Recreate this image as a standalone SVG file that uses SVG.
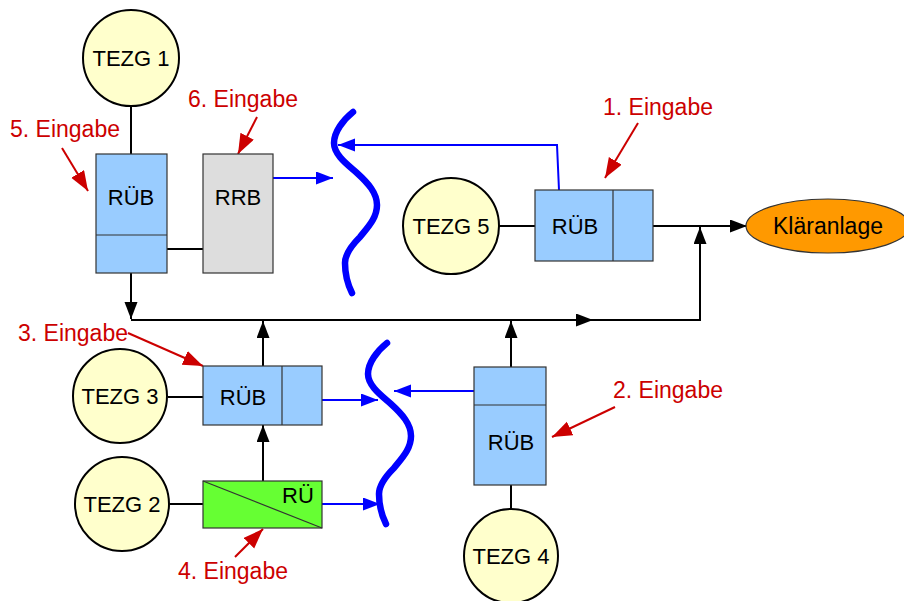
<svg xmlns="http://www.w3.org/2000/svg" width="904" height="601" viewBox="0 0 904 601">
<defs>
<style>
text{font-family:"Liberation Sans",Arial,sans-serif;font-size:22px;fill:#000;text-anchor:middle;dominant-baseline:central}
.lbl{fill:#cc0000;text-anchor:start;dominant-baseline:alphabetic;font-size:23px}
.big{font-size:23px}
.tezg{fill:#ffffcc;stroke:#000;stroke-width:2}
.rub{fill:#99ccff;stroke:#333;stroke-width:1.2}
.rrb{fill:#dddddd;stroke:#333;stroke-width:1.2}
.ru{fill:#66ff33;stroke:#333;stroke-width:1.2}
.ka{fill:#ff9900;stroke:#333;stroke-width:1.2}
.blk{fill:none;stroke:#000;stroke-width:2}
.blu{fill:none;stroke:#0000ff;stroke-width:2}
.red{fill:none;stroke:#cc0000;stroke-width:2}
.wave{fill:none;stroke:#0000ff;stroke-width:6.5;stroke-linecap:round}
</style>
<marker id="ab" markerUnits="userSpaceOnUse" markerWidth="18" markerHeight="14" refX="17" refY="6.5" orient="auto"><path d="M0,0 L17,6.5 L0,13 Z" fill="#000"/></marker>
<marker id="au" markerUnits="userSpaceOnUse" markerWidth="18" markerHeight="14" refX="17" refY="6.5" orient="auto"><path d="M0,0 L17,6.5 L0,13 Z" fill="#0000ff"/></marker>
<marker id="ar" markerUnits="userSpaceOnUse" markerWidth="21" markerHeight="16" refX="20" refY="7.5" orient="auto"><path d="M0,0 L20,7.5 L0,15 Z" fill="#cc0000"/></marker>
</defs>
<rect width="904" height="601" fill="#fff"/>

<g id="connectors">
<line class="blk" x1="131" y1="107" x2="131" y2="154"/>
<line class="blk" x1="167" y1="249" x2="203" y2="249"/>
<line class="blk" x1="131" y1="273" x2="131" y2="319" marker-end="url(#ab)"/>
<polyline class="blk" points="131,320 593,320"  marker-end="url(#ab)"/>
<polyline class="blk" points="590,320 700,320 700,227" marker-end="url(#ab)"/>
<line class="blk" x1="499" y1="226" x2="535" y2="226"/>
<line class="blk" x1="653" y1="226" x2="747" y2="226" marker-end="url(#ab)"/>
<line class="blk" x1="263" y1="366" x2="263" y2="321" marker-end="url(#ab)"/>
<line class="blk" x1="263" y1="481" x2="263" y2="425" marker-end="url(#ab)"/>
<line class="blk" x1="511" y1="367" x2="511" y2="321" marker-end="url(#ab)"/>
<line class="blk" x1="168" y1="397" x2="203" y2="397"/>
<line class="blk" x1="170" y1="504" x2="203" y2="504"/>
<line class="blk" x1="511" y1="485" x2="511" y2="509"/>
<line class="blu" x1="273" y1="178" x2="333" y2="178" marker-end="url(#au)"/>
<polyline class="blu" points="559,190 557,145 338,145" marker-end="url(#au)"/>
<line class="blu" x1="322" y1="400" x2="378" y2="400" marker-end="url(#au)"/>
<line class="blu" x1="322" y1="504" x2="380" y2="504" marker-end="url(#au)"/>
<line class="blu" x1="474" y1="391" x2="394" y2="391" marker-end="url(#au)"/>
<line class="red" x1="62" y1="148" x2="88" y2="191" marker-end="url(#ar)"/>
<line class="red" x1="257" y1="117" x2="238" y2="154" marker-end="url(#ar)"/>
<line class="red" x1="638" y1="123" x2="605" y2="178" marker-end="url(#ar)"/>
<line class="red" x1="128" y1="333" x2="203" y2="366" marker-end="url(#ar)"/>
<line class="red" x1="615" y1="407" x2="552" y2="437" marker-end="url(#ar)"/>
<line class="red" x1="235" y1="557" x2="263" y2="529" marker-end="url(#ar)"/>
</g>

<g id="wave1"><path class="wave" d="M353,112 C343,120 334,132 334,143 C334,155 348,165 357,173 C368,183 377,193 377,205 C377,218 368,227 360,237 C350,247 345,255 345,263 C345,275 348,285 352,293"/></g>
<g id="wave2"><path class="wave" transform="translate(34,231)" d="M353,112 C343,120 334,132 334,143 C334,155 348,165 357,173 C368,183 377,193 377,205 C377,218 368,227 360,237 C350,247 345,255 345,263 C345,275 348,285 352,293"/></g>

<g id="tezg1"><circle class="tezg" cx="131" cy="58" r="48"/><text x="131" y="58">TEZG 1</text></g>
<g id="tezg5"><circle class="tezg" cx="451" cy="226" r="48"/><text x="451" y="226">TEZG 5</text></g>
<g id="tezg3"><circle class="tezg" cx="120" cy="396" r="47"/><text x="120" y="396">TEZG 3</text></g>
<g id="tezg2"><circle class="tezg" cx="122" cy="504" r="47"/><text x="122" y="504">TEZG 2</text></g>
<g id="tezg4"><circle class="tezg" cx="511" cy="556" r="47"/><text x="511" y="556">TEZG 4</text></g>

<g id="rub1"><rect class="rub" x="96" y="154" width="71" height="119"/><line class="rub" x1="96" y1="235" x2="167" y2="235"/><text x="131" y="197">RÜB</text></g>
<g id="rrb"><rect class="rrb" x="203" y="154" width="70" height="119"/><text x="238" y="197">RRB</text></g>
<g id="rub5"><rect class="rub" x="535" y="190" width="118" height="71"/><line class="rub" x1="613" y1="190" x2="613" y2="261"/><text x="575" y="226">RÜB</text></g>
<g id="kla"><ellipse class="ka" cx="828" cy="226" rx="82" ry="27"/><text class="big" x="828" y="226">Kläranlage</text></g>
<g id="rub3"><rect class="rub" x="203" y="366" width="119" height="59"/><line class="rub" x1="282" y1="366" x2="282" y2="425"/><text x="243" y="397">RÜB</text></g>
<g id="ru"><rect class="ru" x="203" y="481" width="119" height="47"/><line class="rub" x1="203" y1="481" x2="322" y2="528"/><text x="298" y="495">RÜ</text></g>
<g id="rub4"><rect class="rub" x="474" y="367" width="72" height="118"/><line class="rub" x1="474" y1="405" x2="546" y2="405"/><text x="511" y="442">RÜB</text></g>

<g id="labels">
<text class="lbl" x="10" y="137">5. Eingabe</text>
<text class="lbl" x="188" y="107">6. Eingabe</text>
<text class="lbl" x="603" y="115">1. Eingabe</text>
<text class="lbl" x="18" y="341">3. Eingabe</text>
<text class="lbl" x="613" y="398">2. Eingabe</text>
<text class="lbl" x="178" y="579">4. Eingabe</text>
</g>
</svg>
